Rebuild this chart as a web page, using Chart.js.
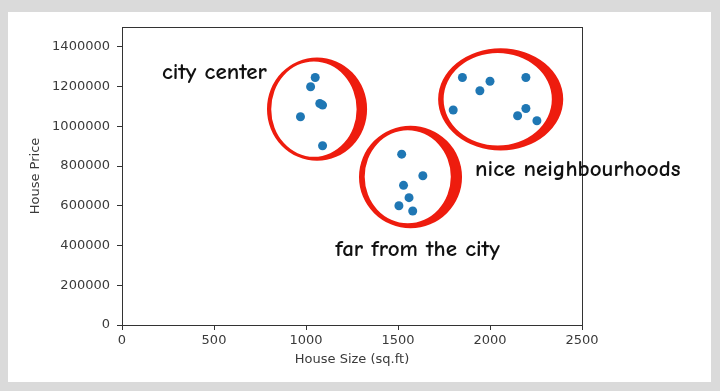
<!DOCTYPE html>
<html>
<head>
<meta charset="utf-8">
<script src="https://cdn.jsdelivr.net/npm/chart.js@4.4.1/dist/chart.umd.min.js"></script>
<style>
    html, body { margin: 0; padding: 0; }
    body { width: 720px; height: 391px; background: #dadada; position: relative; overflow: hidden; }
    #frame { position: absolute; left: 8px; top: 12px; width: 703px; height: 370px; background: #fff; }
    #canvas { position: absolute; left: 0; top: 0; }
</style>
</head>
<body>
<div id="frame"></div>
<canvas id="canvas" width="720" height="391"></canvas>
<script>
// house size (sq.ft) and price
var houseSize = [1050, 1025, 1075, 1090, 970, 1090,
    1520, 1635, 1530, 1560, 1505, 1580,
    1850, 2000, 1945, 2195, 1800, 2195, 2150, 2255];
var housePrice = [1246000, 1199000, 1115000, 1107000, 1048000, 902000,
    860000, 751000, 703000, 641000, 600000, 574000,
    1246000, 1227000, 1179000, 1246000, 1082000, 1090000, 1053000, 1028000];

var xTicks = [0, 500, 1000, 1500, 2000, 2500];
var yTicks = [0, 200000, 400000, 600000, 800000, 1000000, 1200000, 1400000];

var clusterNames = ['city center', 'far from the city', 'nice neighbourhoods'];

// hand drawn rings round each group, in data units
var rings = [
    { hole: [1043, 1086600, 232, 240000], outer: [1060, 1086600, 272, 260000] },
    { hole: [1553, 746000, 234, 234000], outer: [1568, 745000, 280, 258000] },
    { hole: [2042, 1135900, 294, 233000], outer: [2058, 1135900, 340, 257000] },
];
// where each name starts (data units, at the text baseline)
var nameAnchors = [[217, 1237000], [1159, 347000], [1919, 751000]];

var points = houseSize.map((x, i) => ({ x: x, y: housePrice[i] }));

function ellipsePath(ctx, xs, ys, e) {
    var cx = xs.getPixelForValue(e[0]);
    var cy = ys.getPixelForValue(e[1]);
    var rx = Math.abs(xs.getPixelForValue(e[0] + e[2]) - cx);
    var ry = Math.abs(ys.getPixelForValue(e[1] + e[3]) - cy);
    ctx.moveTo(cx + rx, cy);
    ctx.ellipse(cx, cy, rx, ry, 0, 0, Math.PI * 2);
}

var annotations = {
    id: 'annotations',
    beforeDatasetsDraw(chart) {
        var ctx = chart.ctx;
        var xs = chart.scales.x, ys = chart.scales.y;
        ctx.save();
        ctx.fillStyle = '#ee1c0e';
        rings.forEach(r => {
            ctx.beginPath();
            ellipsePath(ctx, xs, ys, r.outer);
            ellipsePath(ctx, xs, ys, r.hole);
            ctx.fill('evenodd');
        });
        ctx.restore();
    },
    afterDraw(chart) {
        var ctx = chart.ctx;
        var xs = chart.scales.x, ys = chart.scales.y;
        var a = chart.chartArea;
        ctx.save();
        ctx.strokeStyle = '#333';
        ctx.lineWidth = 1;
        ctx.strokeRect(Math.round(a.left) + 0.5, Math.round(a.top) + 0.5,
            Math.round(a.right - a.left), Math.round(a.bottom - a.top));

        ctx.fillStyle = '#111';
        ctx.font = "600 23px 'Comic Sans MS', 'Comic Neue', 'DejaVu Sans Condensed', sans-serif";
        ctx.textBaseline = 'alphabetic';
        ctx.textAlign = 'left';
        clusterNames.forEach((name, i) => {
            ctx.fillText(name, xs.getPixelForValue(nameAnchors[i][0]), ys.getPixelForValue(nameAnchors[i][1]));
        });
        ctx.restore();
    }
};

var ctx = document.getElementById('canvas').getContext('2d');
var houseChart = new Chart(ctx, {
    type: 'scatter',
    data: {
        datasets: [{
            label: 'houses',
            data: points,
            backgroundColor: '#1f77b4',
            borderWidth: 0,
            pointRadius: 4.5,
        }]
    },
    plugins: [annotations],
    options: {
        responsive: false,
        animation: false,
        devicePixelRatio: 1,
        layout: { padding: { left: 0, top: 27, right: 138, bottom: 0 } },
        plugins: {
            legend: { display: false },
            tooltip: { enabled: false },
        },
        scales: {
            x: {
                type: 'linear',
                min: 0,
                max: 2500,
                afterBuildTicks: scale => { scale.ticks = xTicks.map(v => ({ value: v })); },
                afterFit: scale => { scale.height = 66; },
                border: { display: false },
                grid: { drawOnChartArea: false, tickLength: 5, color: '#333' },
                ticks: {
                    color: '#3a3a3a', padding: 3, maxRotation: 0,
                    font: { family: 'DejaVu Sans', size: 13 },
                    callback: v => String(v),
                },
                title: {
                    display: true,
                    text: 'House Size (sq.ft)',
                    color: '#3a3a3a',
                    padding: { top: 0, bottom: 24 },
                    font: { family: 'DejaVu Sans', size: 13 },
                },
            },
            y: {
                type: 'linear',
                min: 0,
                max: 1500000,
                afterBuildTicks: scale => { scale.ticks = yTicks.map(v => ({ value: v })); },
                afterFit: scale => { scale.width = 122; },
                border: { display: false },
                grid: { drawOnChartArea: false, tickLength: 5, color: '#333' },
                ticks: {
                    color: '#3a3a3a', padding: 7,
                    font: { family: 'DejaVu Sans', size: 13 },
                    callback: v => String(v),
                },
                title: {
                    display: true,
                    text: 'House Price',
                    color: '#3a3a3a',
                    padding: { top: 28, bottom: 0 },
                    font: { family: 'DejaVu Sans', size: 13 },
                },
            },
        },
    }
});
</script>
</body>
</html>
